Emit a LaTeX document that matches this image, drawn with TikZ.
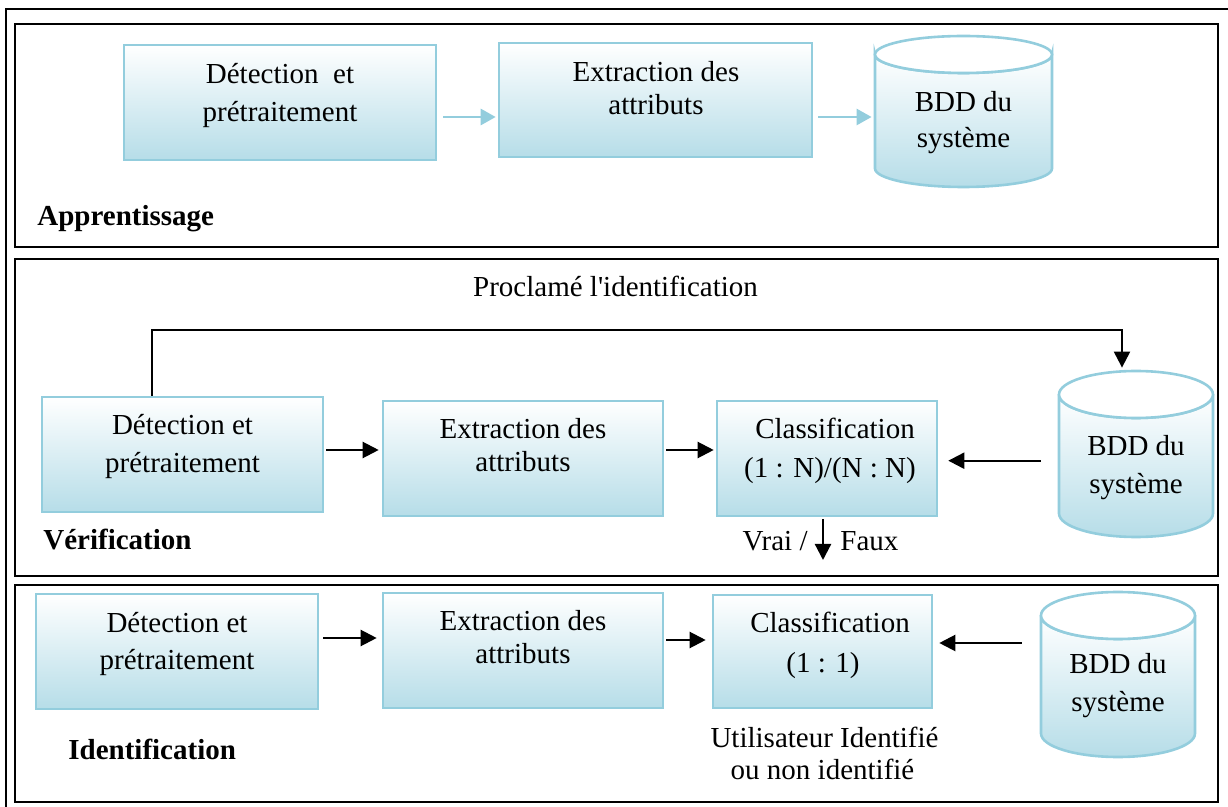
\documentclass[tikz,border=0pt]{standalone}
\usepackage{fontspec}
\setmainfont{Liberation Serif}[Ligatures=TeXOff]
\usetikzlibrary{arrows.meta,fit}
\definecolor{edgeblue}{HTML}{93CDDD}
\definecolor{fillblue}{HTML}{B6DDE8}

% database cylinder: name, centre x, top y, bottom y, x radius, y radius
\newcommand{\dbcyl}[6]{%
  \shade[top color=white, bottom color=fillblue, draw=edgeblue, line width=1.3pt]
    (#2-#5,#3+#6) -- (#2-#5,#4-#6)
    arc[start angle=180, end angle=0, x radius=#5, y radius=#6]
    -- (#2+#5,#3+#6)
    arc[start angle=0, end angle=180, x radius=#5, y radius=#6] -- cycle;
  \filldraw[fill=white, draw=edgeblue, line width=1.3pt]
    (#2,#3+#6) ellipse [x radius=#5, y radius=#6];
  \node[fit={(#2-#5,#3) (#2+#5,#4)}, inner sep=0pt] (#1) {};
}

\begin{document}
\begin{tikzpicture}[x=0.5pt, y=-0.5pt,
  box/.style={draw=edgeblue, line width=1.3pt, top color=white, bottom color=fillblue, inner sep=0pt},
  txt/.style={anchor=base, inner sep=0pt, font=\fontsize{14.5}{17}\selectfont},
  txtl/.style={txt, anchor=base west},
  txtr/.style={txt, anchor=base east},
  lbl/.style={anchor=base west, inner sep=0pt, font=\fontsize{14.5}{17}\selectfont\bfseries},
  panel/.style={draw=black, line width=1.3pt, inner sep=0pt},
  flow/.style={draw=black, line width=1.1pt, -{Triangle[length=8pt,width=8pt]}},
  flowlight/.style={draw=edgeblue, line width=1.4pt, -{Triangle[length=7.5pt,width=8pt]}},
]
\useasboundingbox (0,0) rectangle (1228,807);

% outer frame
\draw[line width=1pt] (6,807) -- (6,9) -- (1228,9);

% ---------- learning stage ----------
\node[panel, fit={(15,24) (1218,247)}] (learn) {};
\node[box, fit={(124,45) (436,160)}] (det1) {};
\node[box, fit={(499,43) (812,157)}] (ext1) {};
\dbcyl{cyl1}{963.5}{36}{187}{88.5}{18.5}
\node[txt] (det1a) at (280,84) {Détection \ et};
\node[txt] (det1b) at (280,122) {prétraitement};
\node[txt] (ext1a) at (656,82) {Extraction des};
\node[txt] (ext1b) at (656,115) {attributs};
\node[txt] (cyl1a) at (963.5,112) {BDD du};
\node[txt] (cyl1b) at (963.5,148) {système};
\node[lbl] (learnlbl) at (37,226) {Apprentissage};
\draw[flowlight, shorten <=3pt, shorten >=1pt]
  ([yshift=-7.25pt]det1.east) -- ([yshift=-7.25pt]det1.east -| ext1.west);
\draw[flowlight, shorten <=2.5pt, shorten >=1.5pt]
  ([yshift=-8.5pt]ext1.east) -- ([yshift=-8.5pt]ext1.east -| cyl1.west);

% ---------- verification stage ----------
\node[panel, fit={(15,259) (1218,576)}] (verif) {};
\node[box, fit={(42,397) (323,512)}] (det2) {};
\node[box, fit={(383,401) (663,516)}] (ext2) {};
\node[box, fit={(717,401) (937,516)}] (cls2) {};
\dbcyl{cyl2}{1136}{371}{537}{77}{23.5}
\node[txt] (proc) at (615.5,297) {Proclamé l'identification};
\node[txt] (det2a) at (182.5,435) {Détection et};
\node[txt] (det2b) at (182.5,473) {prétraitement};
\node[txt] (ext2a) at (523,439) {Extraction des};
\node[txt] (ext2b) at (523,472) {attributs};
\node[txt] (cls2a) at (835,439) {Classification};
\node[txt] (cls2b) at (830,478) {(1 : N)/(N : N)};
\node[txt] (cyl2a) at (1136,456) {BDD du};
\node[txt] (cyl2b) at (1136,494) {système};
\node[txtr] (vrai) at (808,551) {Vrai /};
\node[txtl] (faux) at (840,551) {Faux};
\node[lbl] (veriflbl) at (43,550) {Vérification};
\coordinate (fbA) at (152,330);
\coordinate (fbB) at (1122,330);
\coordinate (vf) at (823,560);
\draw[flow, shorten >=1.5pt] (fbA |- det2.north) -- (fbA) -- (fbB) -- (fbB |- cyl2.north);
\draw[flow, shorten <=1pt, shorten >=1.5pt]
  ([yshift=2.25pt]det2.east) -- ([yshift=2.25pt]det2.east -| ext2.west);
\draw[flow, shorten <=1pt, shorten >=1pt]
  ([yshift=4.25pt]ext2.east) -- ([yshift=4.25pt]ext2.east -| cls2.west);
\draw[flow, shorten <=9pt, shorten >=5pt]
  ([yshift=-3.35pt]cyl2.west) -- ([yshift=-3.35pt]cyl2.west -| cls2.east);
\draw[flow, shorten <=1pt] (vf |- cls2.south) -- (vf);

% ---------- identification stage ----------
\node[panel, fit={(15,585) (1218,802)}] (ident) {};
\node[box, fit={(36,594) (318,709)}] (det3) {};
\node[box, fit={(383,593) (663,708)}] (ext3) {};
\node[box, fit={(713,595) (932,708)}] (cls3) {};
\dbcyl{cyl3}{1118}{592}{757}{77}{23.5}
\node[txt] (det3a) at (177,633) {Détection et};
\node[txt] (det3b) at (177,670) {prétraitement};
\node[txt] (ext3a) at (523,631) {Extraction des};
\node[txt] (ext3b) at (523,664) {attributs};
\node[txt] (cls3a) at (830,633) {Classification};
\node[txt] (cls3b) at (823,673) {(1 : 1)};
\node[txt] (cyl3a) at (1118,674) {BDD du};
\node[txt] (cyl3b) at (1118,712) {système};
\node[txt] (res1) at (824.5,748) {Utilisateur Identifié};
\node[txt] (res2) at (822.5,780) {ou non identifié};
\node[lbl] (identlbl) at (68,760) {Identification};
\draw[flow, shorten <=2pt, shorten >=2.5pt]
  ([yshift=6.75pt]det3.east) -- ([yshift=6.75pt]det3.east -| ext3.west);
\draw[flow, shorten <=1pt, shorten >=3pt]
  ([yshift=5.25pt]ext3.east) -- ([yshift=5.25pt]ext3.east -| cls3.west);
\draw[flow, shorten <=9.5pt, shorten >=3pt]
  ([yshift=15.75pt]cyl3.west) -- ([yshift=15.75pt]cyl3.west -| cls3.east);
\end{tikzpicture}
\end{document}
